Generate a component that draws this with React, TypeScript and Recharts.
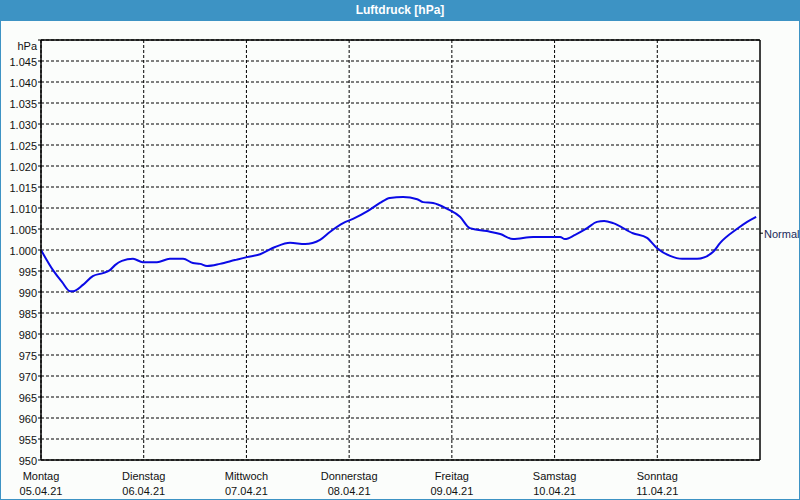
import React from 'react';
import { LineChart, Line, XAxis, YAxis, CartesianGrid, ReferenceLine } from 'recharts';

const hours = [0, 2.8, 4.9, 6.8, 7.5, 9.8, 12.1, 14.5, 16.1, 17.3, 18.9, 21.5, 23.8, 27.1, 30.1, 33.2, 35.5, 37.2, 38.8, 41.8, 45.3, 48.1, 51.2, 54.7, 58.2, 61.7, 65.2, 67.5, 70.6, 72.9, 76.4, 79.2, 81.5, 84.6, 87.9, 89.3, 91.6, 94.9, 97.9, 100.2, 104.2, 107.3, 110.3, 115.0, 121.3, 122.4, 124.8, 127.6, 129.9, 131.6, 133.7, 138.3, 141.6, 143.9, 147.0, 149.8, 153.3, 157.0, 158.7, 162.6, 165.0, 167.1];
const pressure = [1000.0, 995.2, 992.4, 990.2, 990.2, 991.7, 993.8, 994.5, 995.2, 996.4, 997.4, 997.9, 997.1, 997.1, 997.9, 997.9, 996.9, 996.7, 996.2, 996.7, 997.6, 998.3, 999.0, 1000.7, 1001.7, 1001.4, 1002.4, 1004.3, 1006.4, 1007.4, 1009.3, 1011.2, 1012.4, 1012.6, 1012.1, 1011.4, 1011.2, 1009.8, 1007.9, 1005.2, 1004.5, 1003.8, 1002.6, 1003.1, 1003.1, 1002.6, 1003.6, 1005.2, 1006.7, 1006.9, 1006.4, 1004.0, 1002.9, 1000.5, 998.6, 997.9, 997.9, 999.5, 1001.7, 1005.0, 1006.7, 1007.9];

const dayNames = ['Montag', 'Dienstag', 'Mittwoch', 'Donnerstag', 'Freitag', 'Samstag', 'Sonntag'];
const dayDates = ['05.04.21', '06.04.21', '07.04.21', '08.04.21', '09.04.21', '10.04.21', '11.04.21'];
const xTicks = [0, 24, 48, 72, 96, 120, 144];
const yTicks = [950, 955, 960, 965, 970, 975, 980, 985, 990, 995, 1000, 1005, 1010, 1015, 1020, 1025, 1030, 1035, 1040, 1045, 1050];
const normalValue = 1004;
const normalLabel = 'Normal';
const title = 'Luftdruck [hPa]';
const unit = 'hPa';

const data = hours.map((h, i) => ({ h, p: pressure[i] }));

const FONT = '"Liberation Sans", Arial, sans-serif';

const fmtY = (v: number) => (v >= 1000 ? `${Math.floor(v / 1000)}.${String(v % 1000).padStart(3, '0')}` : String(v));

const renderYTick = (props: any) => {
  const { y, payload } = props;
  const v = payload.value;
  const isUnit = v === 1050;
  return (
    <text x={37} y={isUnit ? y + 6 : y + 1} textAnchor="end" dominantBaseline="central" fontSize={11} fontFamily={FONT} fill="#111">
      {isUnit ? unit : fmtY(v)}
    </text>
  );
};

const renderXTick = (props: any) => {
  const { x, y, payload } = props;
  const idx = xTicks.indexOf(payload.value);
  if (idx < 0) return <g />;
  return (
    <g>
      <text x={x} y={y + 8} textAnchor="middle" dominantBaseline="central" fontSize={11} fontFamily={FONT} fill="#111">
        {dayNames[idx]}
      </text>
      <text x={x} y={y + 23} textAnchor="middle" dominantBaseline="central" fontSize={11} fontFamily={FONT} fill="#111">
        {dayDates[idx]}
      </text>
    </g>
  );
};

const renderNormalTick = (props: any) => {
  const { y } = props;
  return (
    <text x={764} y={y + 1} textAnchor="start" dominantBaseline="central" fontSize={11} fontFamily={FONT} fill="#1a2a5a">
      {normalLabel}
    </text>
  );
};

export default function App() {
  return (
    <div style={{ position: 'fixed', left: 0, top: 0, width: 800, height: 500, background: '#fbfdfb', boxSizing: 'border-box', border: '1px solid #3d93c4' }}>
      <div style={{ position: 'absolute', left: -1, top: -1, width: 800, height: 21, background: '#3d93c4', color: '#fff', fontFamily: FONT, fontWeight: 'bold', fontSize: 12, lineHeight: '21px', textAlign: 'center' }}>
        {title}
      </div>
      <div style={{ position: 'absolute', left: -1, top: -1 }}>
        <LineChart width={800} height={500} data={data} margin={{ top: 40, right: 0, bottom: 0, left: 0 }}>
          <CartesianGrid yAxisId="left" stroke="#000" strokeDasharray="3 2" horizontalValues={yTicks} verticalValues={xTicks} />
          <XAxis
            type="number"
            dataKey="h"
            domain={[0, 168]}
            ticks={xTicks}
            interval={0}
            height={40}
            tick={renderXTick}
            tickLine={false}
            axisLine={{ stroke: '#000', strokeWidth: 1.5 }}
          />
          <YAxis
            yAxisId="left"
            type="number"
            domain={[950, 1050]}
            ticks={yTicks}
            interval={0}
            width={41}
            tick={renderYTick}
            tickSize={3}
            tickLine={{ stroke: '#000' }}
            axisLine={{ stroke: '#000', strokeWidth: 1.5 }}
          />
          <YAxis
            yAxisId="right"
            orientation="right"
            type="number"
            domain={[950, 1050]}
            allowDataOverflow
            ticks={[normalValue]}
            interval={0}
            width={40}
            tick={renderNormalTick}
            tickSize={3}
            tickLine={{ stroke: '#000' }}
            axisLine={{ stroke: '#000', strokeWidth: 1.5 }}
          />
          <ReferenceLine yAxisId="left" y={1050} stroke="#000" strokeWidth={1.5} />
          <Line
            yAxisId="right"
            dataKey="p"
            stroke="none"
            dot={false}
            activeDot={false}
            isAnimationActive={false}
          />
          <Line
            yAxisId="left"
            type="monotone"
            dataKey="p"
            stroke="#0a0ae6"
            strokeWidth={2}
            dot={false}
            isAnimationActive={false}
          />
        </LineChart>
      </div>
    </div>
  );
}
